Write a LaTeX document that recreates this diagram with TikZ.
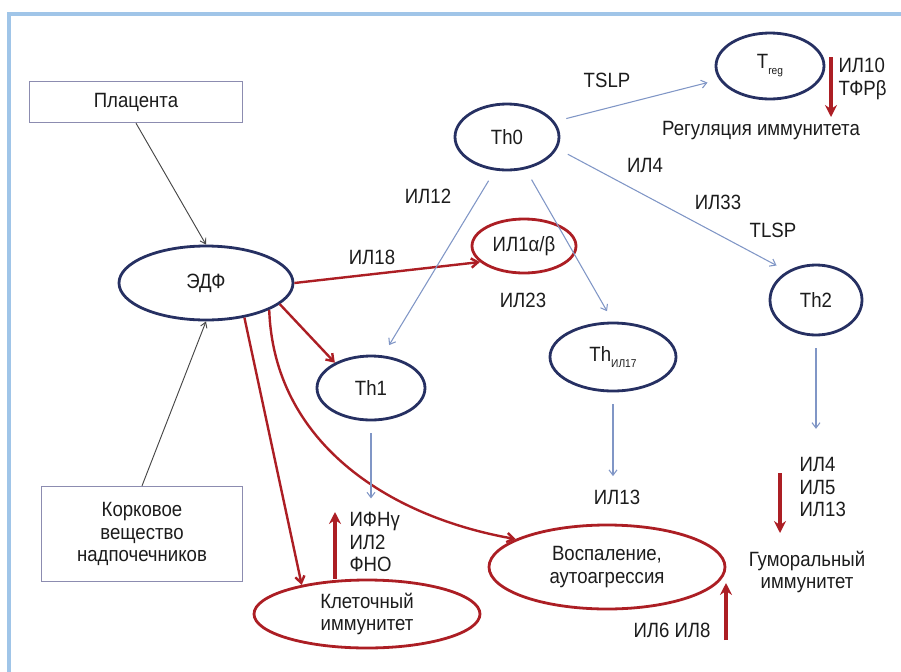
\documentclass[tikz,border=0pt]{standalone}
\usepackage{fontspec}
\setmainfont{Liberation Sans}[FakeStretch=0.9]
\usepackage{tikz}
\usetikzlibrary{shapes.geometric,arrows.meta}
\definecolor{CellNavy}{RGB}{38,48,98}
\definecolor{HotRed}{RGB}{172,30,36}
\definecolor{SigBlue}{RGB}{128,150,198}
\definecolor{FrameBlue}{RGB}{160,197,232}
\definecolor{BoxGrey}{RGB}{140,140,176}
\definecolor{InkGrey}{RGB}{70,70,70}
\definecolor{TextInk}{RGB}{28,28,28}
\newcommand{\lowtag}[1]{\raisebox{-0.55ex}{\fontsize{8.5}{8.5}\selectfont #1}}

\begin{document}
\begin{tikzpicture}[x=0.75pt,y=-0.75pt,every node/.style={font=\fontsize{15.5}{17}\selectfont,text=TextInk,inner sep=1pt},cell/.style n args={3}{ellipse,draw=#1,line width=2.1pt,minimum width=#2*0.75pt,minimum height=#3*0.75pt,inner sep=0pt,align=center},box/.style n args={2}{rectangle,draw=BoxGrey,line width=1pt,minimum width=#1*0.75pt,minimum height=#2*0.75pt,align=center},sig/.style={SigBlue,line width=0.8pt,-{Straight Barb[length=4pt,width=6pt]},shorten <=9pt,shorten >=9pt},hot/.style={HotRed,line width=1.8pt,-{Straight Barb[length=5pt,width=7pt]}},push/.style={HotRed,line width=2.6pt,-{Stealth[length=9pt,width=9pt,inset=3pt]}},feed/.style={InkGrey,line width=0.7pt,-{Straight Barb[length=4pt,width=5pt]}}]
\useasboundingbox (0,0) rectangle (901,672);
\draw[FrameBlue,line width=3pt] (9,672) -- (9,14) -- (901,14);
\node[box={213}{41}] (plac) at (136,102) {Плацента};
\node[box={201}{95}] (cort) at (142,534) {Корковое\\вещество\\надпочечников};
\node[cell={CellNavy}{174}{74}] (edf) at (206,283) {ЭДФ};
\node[cell={CellNavy}{104}{66}] (th0) at (507,137) {Th0};
\node[cell={CellNavy}{108}{66}] (treg) at (770,66) {T\lowtag{reg}};
\node[cell={CellNavy}{92}{70}] (th2) at (816,300) {Th2};
\node[cell={HotRed}{104}{54}] (il1) at (524,246) {ИЛ1α/β};
\node[cell={CellNavy}{108}{64}] (th1) at (371,388) {Th1};
\node[cell={CellNavy}{126}{68}] (th17) at (613,357) {Th\lowtag{ИЛ17}};
\node[cell={HotRed}{226}{68}] (kl) at (367,614) {Клеточный\\иммунитет};
\node[cell={HotRed}{236}{84}] (vos) at (607,567) {Воспаление,\\аутоагрессия};
\foreach \n/\x/\y/\t in {tslp/607/80/TSLP,il4a/645/165/ИЛ4,il33/718/202/ИЛ33,tlsp/773/230/TLSP,il12/428/196/ИЛ12,il18/372/257/ИЛ18,il23/523/300/ИЛ23,il13/617/497/ИЛ13,il68/672/630/ИЛ6 ИЛ8} {
   \node (\n) at (\x,\y) {\t};
}
\node (reg) at (761,131) {Регуляция иммунитета};
\node[anchor=west,align=left] (il10) at (837,79) {ИЛ10\\ТФРβ};
\node[anchor=west,align=left] (ifn) at (348,542) {ИФНγ\\ИЛ2\\ФНО};
\node[anchor=west,align=left] (hum4) at (798,487) {ИЛ4\\ИЛ5\\ИЛ13};
\node[align=center] (hum) at (807,572) {Гуморальный\\иммунитет};
\coordinate (kup) at (335,512);
\coordinate (vlow) at (726,640);
\coordinate (vup) at (726,583);
\coordinate (regtop) at (831,57);
\coordinate (regdn) at (831,117);
\coordinate (humtop) at (780,473);
\coordinate (humdn) at (780,533);
\draw[feed] (plac.south) -- (edf.north);
\draw[feed] (cort.north) -- (edf.south);
\draw[hot] (edf.east) -- (il1.200);
\draw[hot] (edf.-16) -- (th1.145);
\draw[hot] (edf.-42) -- (kl.156);
\draw[hot] (edf.-23) to[out=-88,in=170] (vos.163);
\draw[sig] (th0.18) -- (treg.195);
\draw[sig] (th0.-13) -- (th2.135);
\draw[sig] (th0.250) -- (th1.70);
\draw[sig] (th0.300) -- (th17.north);
\draw[sig] (th1.south) -- (th1.south |- ifn.north);
\draw[sig] (th17.south) -- (th17.south |- il13.north);
\draw[sig,shorten >=20pt] (th2.south) -- (th2.south |- hum4.north);
\draw[push] (kup |- kl.north) -- (kup);
\draw[push] (vlow) -- (vup);
\draw[push] (regtop) -- (regdn);
\draw[push] (humtop) -- (humdn);
\end{tikzpicture}
\end{document}
